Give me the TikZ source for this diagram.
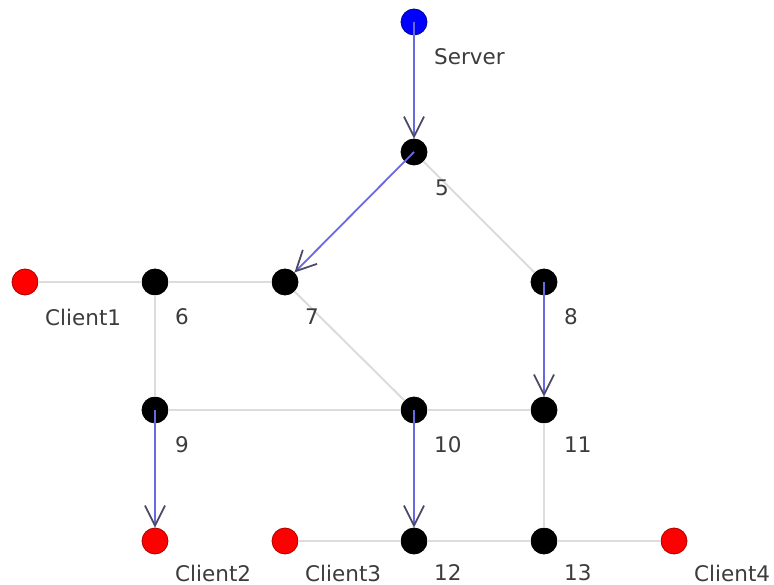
\documentclass[tikz,border=0pt]{standalone}
\usepackage{fontspec}
\setmainfont{DejaVu Sans}
\usetikzlibrary{arrows.meta}
\definecolor{linkgrey}{RGB}{220,220,220}
\definecolor{flowblue}{RGB}{105,105,225}
\definecolor{tipgrey}{RGB}{75,75,105}
\definecolor{labelgrey}{RGB}{60,60,60}
\definecolor{srvblue}{RGB}{0,0,255}
\definecolor{clired}{RGB}{255,0,0}
\tikzset{
  vertex/.style={circle, minimum size=26pt, inner sep=0pt, line width=0.8pt},
  router/.style={vertex, fill=black, draw=black},
  client/.style={vertex, fill=clired, draw={rgb,255:red,170;green,0;blue,0}},
  server/.style={vertex, fill=srvblue, draw={rgb,255:red,0;green,0;blue,150}},
  link/.style={draw=linkgrey, line width=2pt},
  flow/.style={draw=flowblue, line width=1.8pt,
    -{Straight Barb[length=20pt,width=20pt,line width=1.8pt,color=tipgrey]}},
  tag/.style={anchor=west, inner sep=0pt, text=labelgrey, font=\fontsize{21.5}{24}\selectfont}
}
\begin{document}
\begin{tikzpicture}[x=1pt,y=-1pt]
\useasboundingbox (0,0) rectangle (774,585);

% hosts and routers
\node[server] (srv) at (414,22) {};
\node[router] (n5)  at (414,152) {};
\node[client] (c1)  at (25,282) {};
\node[router] (n6)  at (155,282) {};
\node[router] (n7)  at (285,282) {};
\node[router] (n8)  at (544,282) {};
\node[router] (n9)  at (155,410) {};
\node[router] (n10) at (414,410) {};
\node[router] (n11) at (544,410) {};
\node[client] (c2)  at (155,541) {};
\node[client] (c3)  at (285,541) {};
\node[router] (n12) at (414,541) {};
\node[router] (n13) at (544,541) {};
\node[client] (c4)  at (674,541) {};

% physical links
\path[link] (c1) -- (n6);
\path[link] (n6) -- (n7);
\path[link] (n5) -- (n8);
\path[link] (n7) -- (n10);
\path[link] (n6) -- (n9);
\path[link] (n9) -- (n10);
\path[link] (n10) -- (n11);
\path[link] (n11) -- (n13);
\path[link] (c3) -- (n12);
\path[link] (n12) -- (n13);
\path[link] (n13) -- (c4);

% multicast flow
\path[flow] (srv.center) -- (n5);
\path[flow] (n5.center) -- (n7);
\path[flow] (n8.center) -- (n11);
\path[flow] (n10.center) -- (n12);
\path[flow] (n9.center) -- (c2);

% labels
\node[tag] (lsrv) at (434,57)  {Server};
\node[tag] (l5)   at (435,188) {5};
\node[tag] (lc1)  at (45,317)  {Client1};
\node[tag] (l6)   at (175,317) {6};
\node[tag] (l7)   at (305,317) {7};
\node[tag] (l8)   at (564,317) {8};
\node[tag] (l9)   at (175,445) {9};
\node[tag] (l10)  at (434,445) {10};
\node[tag] (l11)  at (564,445) {11};
\node[tag] (lc2)  at (175,573) {Client2};
\node[tag] (lc3)  at (305,573) {Client3};
\node[tag] (l12)  at (434,573) {12};
\node[tag] (l13)  at (564,573) {13};
\node[tag] (lc4)  at (694,573) {Client4};
\end{tikzpicture}
\end{document}
